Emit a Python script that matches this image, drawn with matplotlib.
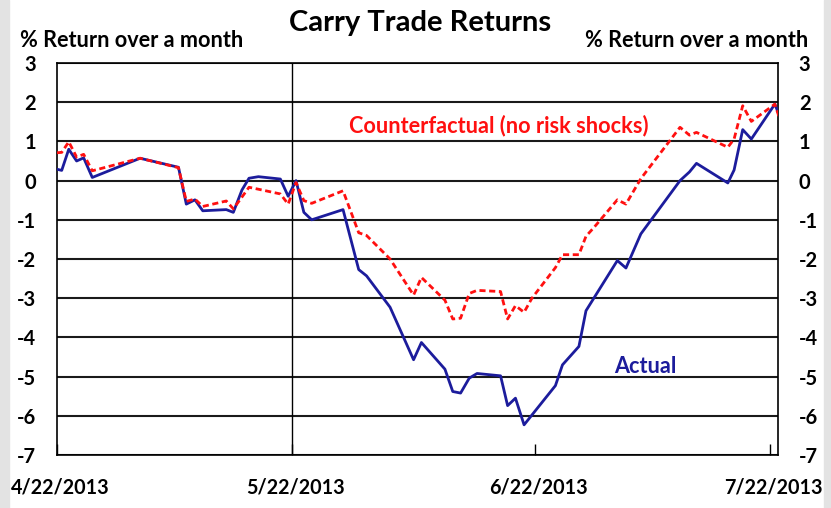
import matplotlib.pyplot as plt
from matplotlib.patches import Rectangle
from matplotlib.transforms import ScaledTranslation

# Days since 4/22/2013 for each observation
days = [0.0, 0.6, 1.5, 2.5, 3.4, 4.5, 10.6, 15.5, 16.5, 17.6, 18.6, 21.6, 22.5, 23.6,
        24.5, 25.7, 28.5, 29.5, 30.5, 31.5, 32.5, 36.5, 38.5, 39.5, 42.5, 45.5, 46.5,
        49.5, 50.5, 51.5, 52.6, 53.6, 56.6, 57.5, 58.5, 59.6, 60.6, 63.6, 64.5, 66.6,
        67.5, 68.5, 71.5, 72.6, 74.5, 79.5, 80.7, 81.6, 85.6, 86.4, 87.5, 88.6, 91.6, 92.2]

# % return over a month
actual = [0.29, 0.26, 0.80, 0.50, 0.58, 0.08, 0.57, 0.34, -0.60, -0.49, -0.77, -0.74, -0.81, -0.24,
          0.06, 0.10, 0.04, -0.40, 0.00, -0.81, -1.00, -0.74, -2.27, -2.43, -3.23, -4.57, -4.13,
          -4.81, -5.38, -5.42, -5.04, -4.92, -4.98, -5.74, -5.55, -6.23, -5.98, -5.23, -4.70, -4.23,
          -3.32, -3.00, -2.04, -2.23, -1.36, 0.00, 0.22, 0.44, -0.06, 0.27, 1.30, 1.06, 1.95, 1.65]
counterfactual = [0.71, 0.72, 0.99, 0.60, 0.67, 0.25, 0.57, 0.33, -0.53, -0.47, -0.66, -0.52, -0.72, -0.42,
                  -0.17, -0.22, -0.34, -0.60, -0.05, -0.51, -0.58, -0.26, -1.33, -1.40, -2.00, -2.92, -2.47,
                  -3.05, -3.53, -3.51, -2.88, -2.80, -2.83, -3.53, -3.19, -3.36, -3.00, -2.22, -1.89, -1.89,
                  -1.42, -1.20, -0.49, -0.60, 0.05, 1.36, 1.16, 1.23, 0.85, 1.06, 1.91, 1.51, 1.95, 1.59]

# Axis ticks
tick_days = [0, 30, 61, 91]
tick_labels = ['4/22/2013', '5/22/2013', '6/22/2013', '7/22/2013']
y_ticks = [3, 2, 1, 0, -1, -2, -3, -4, -5, -6, -7]

font = ['Lato', 'DejaVu Sans']
plt.rcParams['font.family'] = font
plt.rcParams['font.weight'] = 'bold'

fig = plt.figure(figsize=(8.31, 5.08), dpi=100)
ax = fig.add_axes([0.0686, 0.1043, 0.8676, 0.7717])

# grey strips at the image edges
fig.patches.append(Rectangle((0, 0), 0.011, 1, transform=fig.transFigure, color='#e3e3e3', zorder=-5))
fig.patches.append(Rectangle((0.991, 0), 0.009, 1, transform=fig.transFigure, color='#e3e3e3', zorder=-5))

for y in y_ticks:
    ax.axhline(y, color='#1a1a1a', linewidth=1.5, zorder=1)
ax.axvline(30, color='black', linewidth=1.0, zorder=1)

ax.plot(days, actual, color='#1c1c9c', linewidth=2.0, zorder=3)
ax.plot(days, counterfactual, color='#ff1010', linewidth=2.0, linestyle=(0, (2.2, 1.3)), zorder=4)

ax.set_xlim(0, 92.0)
ax.set_ylim(-7, 3)

ax.set_xticks(tick_days)
ax.set_xticklabels(tick_labels, fontsize=14.2, fontweight='bold')
ax.tick_params(axis='x', direction='in', length=8, width=1, pad=16)
# labels sit a few pixels right of their ticks in the original
shift = ScaledTranslation(3 / 100, 0, fig.dpi_scale_trans)
for lab in ax.get_xticklabels():
    lab.set_transform(lab.get_transform() + shift)
ax.set_yticks(y_ticks)
ax.set_yticklabels([str(y) for y in y_ticks], fontsize=14.5, fontweight='bold')
ax.tick_params(axis='y', length=0, pad=15, labelright=True)

for s in ax.spines.values():
    s.set_color('black')
    s.set_linewidth(1.2)

fig.text(0.506, 0.955, 'Carry Trade Returns', ha='center', va='center', fontsize=21, fontweight='bold')
fig.text(0.024, 0.92, '% Return over a month', ha='left', va='center', fontsize=15.6, fontweight='bold')
fig.text(0.973, 0.92, '% Return over a month', ha='right', va='center', fontsize=15.6, fontweight='bold')
fig.text(0.6, 0.752, 'Counterfactual (no risk shocks)', ha='center', va='center',
         fontsize=15.6, fontweight='bold', color='#ff1010')
fig.text(0.776, 0.279, 'Actual', ha='center', va='center', fontsize=15.6, fontweight='bold', color='#1c1c9c')

fig.savefig('out.png', dpi=100)
